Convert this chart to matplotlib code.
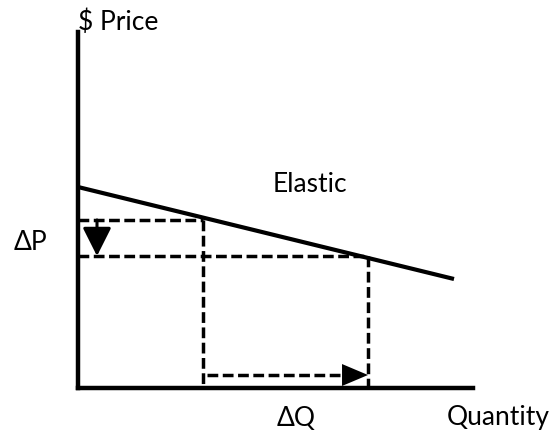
import matplotlib
matplotlib.use("Agg")
import matplotlib.pyplot as plt

plt.rcParams['font.family'] = ['Lato', 'DejaVu Sans']

# ---- data (arbitrary units: quantity / price) ----
axis_top = 35.6          # top of price axis
axis_right = 39.5        # end of quantity axis
demand_q = [0.0, 37.6]   # demand curve endpoints (quantity)
demand_p = [20.1, 10.9]  # demand curve endpoints (price)
q_points = [12.5, 29.0]  # Q1, Q2
p_points = [16.8, 13.2]  # P1, P2
dp_arrow_q = 1.9         # quantity at which the ΔP arrow is drawn
dq_arrow_p = 1.3         # price at which the ΔQ arrow is drawn

labels = {
    "price": "$ Price",
    "quantity": "Quantity",
    "elastic": "Elastic",
    "dp": "\u0394P",
    "dq": "\u0394Q",
}

fig = plt.figure(figsize=(5.54, 4.33), dpi=100)
ax = fig.add_axes([0, 0, 1, 1])
ax.set_xlim(-7.8, 47.6)
ax.set_ylim(-4.5, 38.8)
ax.axis('off')

K = 'black'
# axes
ax.plot([0, 0], [0, axis_top], color=K, lw=3.2, solid_capstyle='projecting')
ax.plot([0, axis_right], [0, 0], color=K, lw=3.2, solid_capstyle='projecting')

# demand curve
ax.plot(demand_q, demand_p, color=K, lw=3.0, solid_capstyle='butt')

dlw = 2.5
dash = (0, (3.1, 1.3))
q1, q2 = q_points
p1, p2 = p_points
ax.plot([0, q1], [p1, p1], color=K, lw=dlw, ls=dash)
ax.plot([q1, q1], [p1, 0], color=K, lw=dlw, ls=dash)
ax.plot([0, q2], [p2, p2], color=K, lw=dlw, ls=dash)
ax.plot([q2, q2], [p2, 0], color=K, lw=dlw, ls=dash)

# ΔP arrow (down)
ax.annotate('', xy=(dp_arrow_q, p2), xytext=(dp_arrow_q, p1),
            arrowprops=dict(arrowstyle='-|>,head_length=17.5,head_width=8.8',
                            mutation_scale=1, color=K, lw=2.2,
                            shrinkA=0, shrinkB=0))

# ΔQ arrow (right)
head_len = 2.6
ax.plot([q1 + 0.4, q2 - head_len], [dq_arrow_p, dq_arrow_p], color=K, lw=dlw, ls=dash)
ax.annotate('', xy=(q2, dq_arrow_p), xytext=(q2 - head_len, dq_arrow_p),
            arrowprops=dict(arrowstyle='-|>,head_length=18.7,head_width=7.9',
                            mutation_scale=1, color=K, lw=0,
                            shrinkA=0, shrinkB=0))

fs = 19
ax.text(0, 36.6, labels["price"], ha='left', va='center', fontsize=fs)
ax.text(23.2, 20.3, labels["elastic"], ha='center', va='center', fontsize=fs)
ax.text(-4.8, 14.6, labels["dp"], ha='center', va='center', fontsize=fs)
ax.text(21.8, -3.0, labels["dq"], ha='center', va='center', fontsize=fs)
ax.text(42.0, -3.0, labels["quantity"], ha='center', va='center', fontsize=fs)

fig.savefig('out.png', dpi=100)
